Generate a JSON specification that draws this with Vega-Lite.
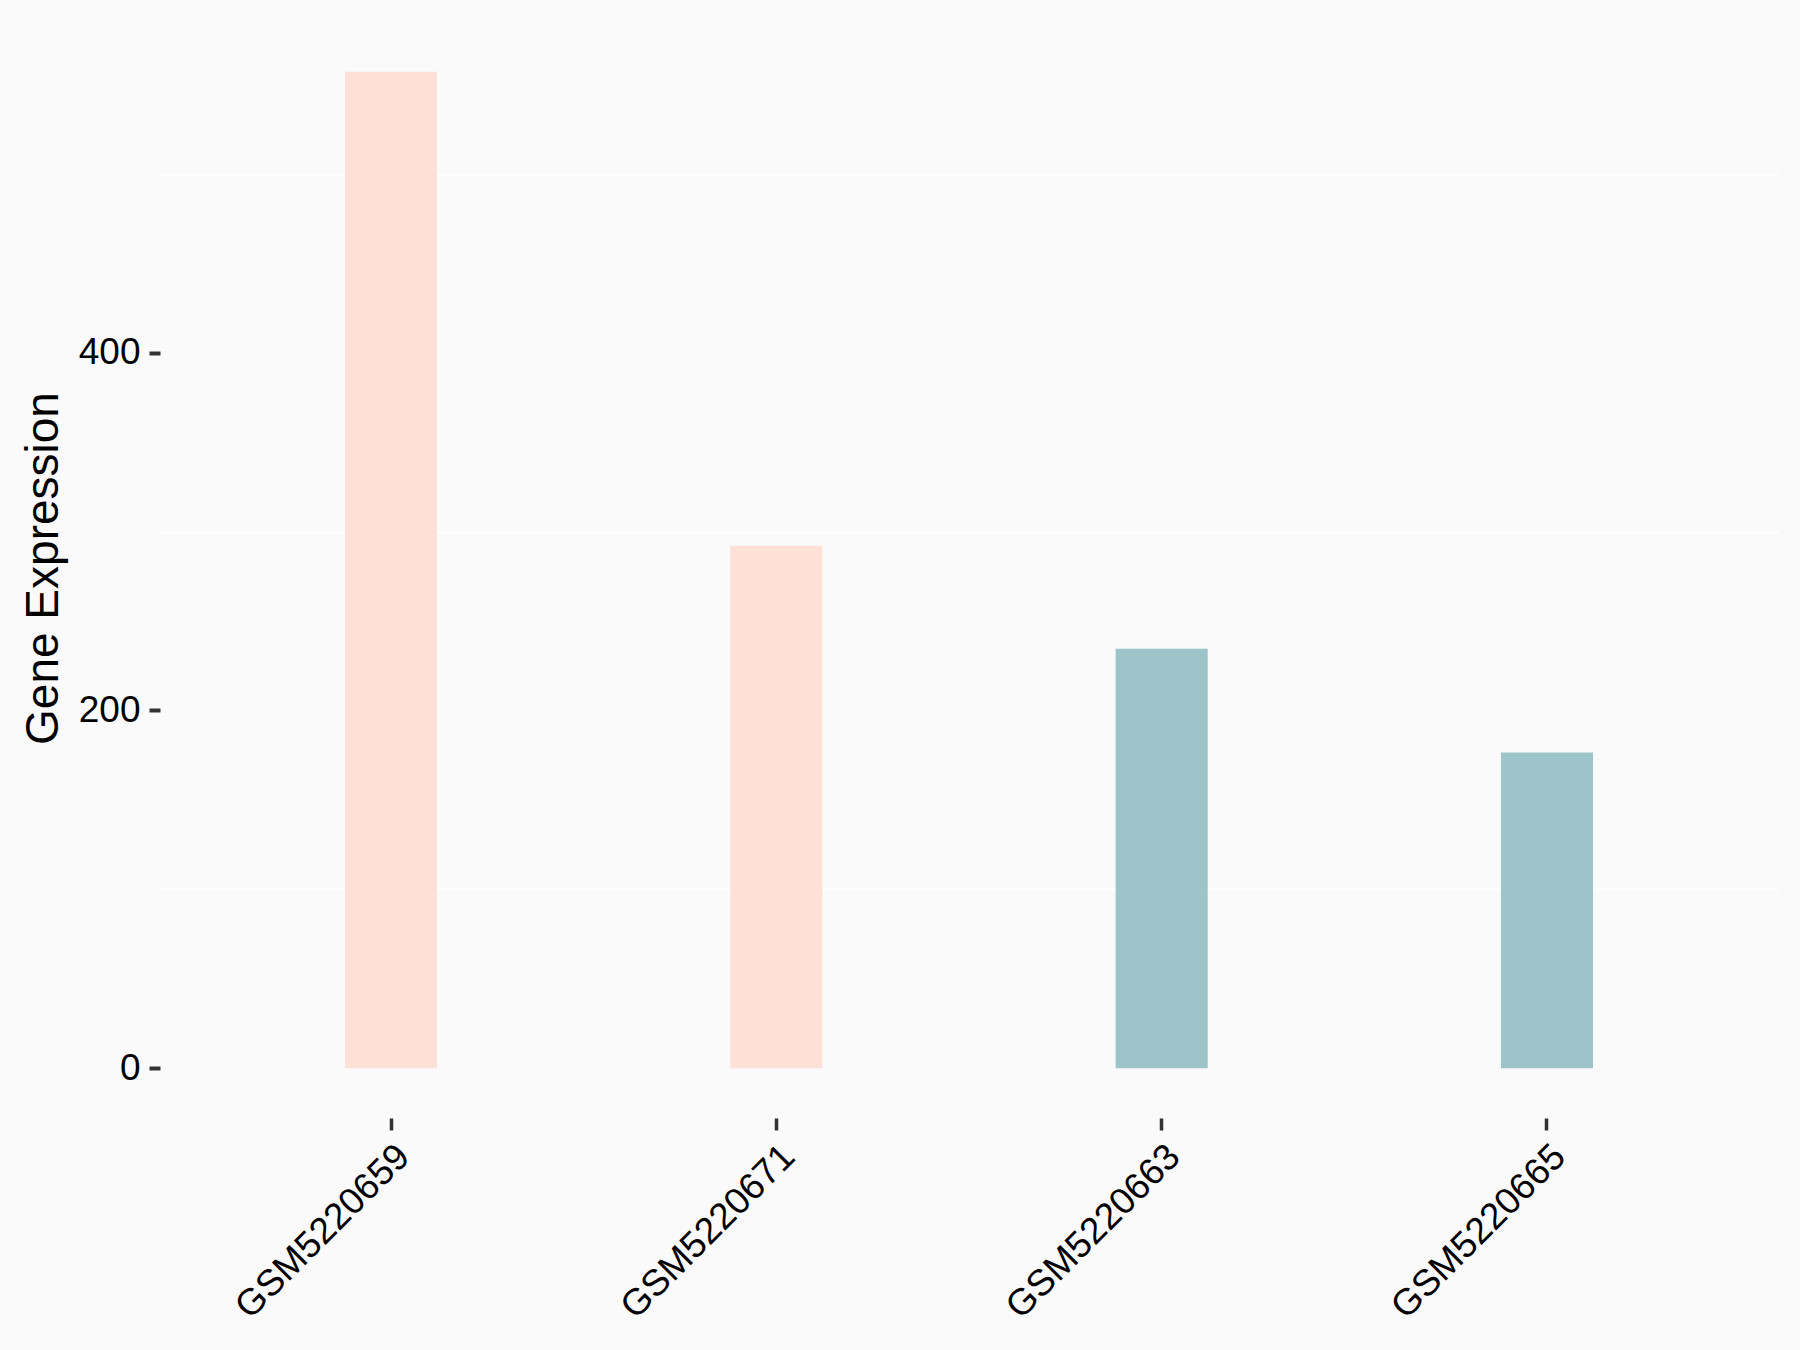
{
  "$schema": "https://vega.github.io/schema/vega-lite/v6.json",
  "width": 1618,
  "height": 1096,
  "autosize": {"type": "none"},
  "padding": {"left": 160, "top": 22, "right": 22, "bottom": 232},
  "background": "#FAFAFA",
  "config": {
    "view": {"stroke": null, "fill": "#FAFAFA"},
    "font": "Liberation Sans"
  },
  "data": {
    "values": [
      {"sample": "GSM5220659", "value": 557, "group": "high"},
      {"sample": "GSM5220671", "value": 292, "group": "high"},
      {"sample": "GSM5220663", "value": 234.5, "group": "low"},
      {"sample": "GSM5220665", "value": 176.5, "group": "low"}
    ]
  },
  "mark": {"type": "bar"},
  "encoding": {
    "x": {
      "field": "sample",
      "type": "nominal",
      "sort": null,
      "scale": {"paddingInner": 0.761, "paddingOuter": 0.48},
      "axis": {
        "title": null,
        "domain": false,
        "labelAngle": -45,
        "labelAlign": "right",
        "labelBaseline": "top",
        "labelFontSize": 37,
        "labelColor": "#000000",
        "labelPadding": 8,
        "labelLimit": 0,
        "labelOverlap": false,
        "labelBound": false,
        "labelFlush": false,
        "tickSize": 12,
        "tickWidth": 3.5,
        "tickColor": "#333333",
        "grid": false
      }
    },
    "y": {
      "field": "value",
      "type": "quantitative",
      "scale": {"domain": [-27.85, 584.85], "nice": false, "zero": false},
      "axis": {
        "title": "Gene Expression",
        "titleFontSize": 46,
        "titleFontWeight": "normal",
        "titleColor": "#000000",
        "titleAngle": -90,
        "titleAlign": "center",
        "titleBaseline": "alphabetic",
        "titleX": -103,
        "titleY": 546,
        "domain": false,
        "values": [0, 100, 200, 300, 400, 500],
        "labelExpr": "datum.value % 200 === 0 ? datum.label : ''",
        "labelFontSize": 37,
        "labelColor": "#000000",
        "labelPadding": 9,
        "tickSize": 11,
        "tickWidth": 4,
        "tickColor": "#333333",
        "tickOpacity": {"condition": {"test": "datum.value % 200 === 0", "value": 1}, "value": 0},
        "grid": true,
        "gridColor": "#FFFFFF",
        "gridWidth": 2,
        "gridOpacity": {"condition": {"test": "datum.value % 200 === 100", "value": 1}, "value": 0}
      }
    },
    "y2": {"datum": 0},
    "color": {
      "field": "group",
      "type": "nominal",
      "scale": {"domain": ["high", "low"], "range": ["#FEE0D6", "#9DC4C8"]},
      "legend": null
    }
  }
}
